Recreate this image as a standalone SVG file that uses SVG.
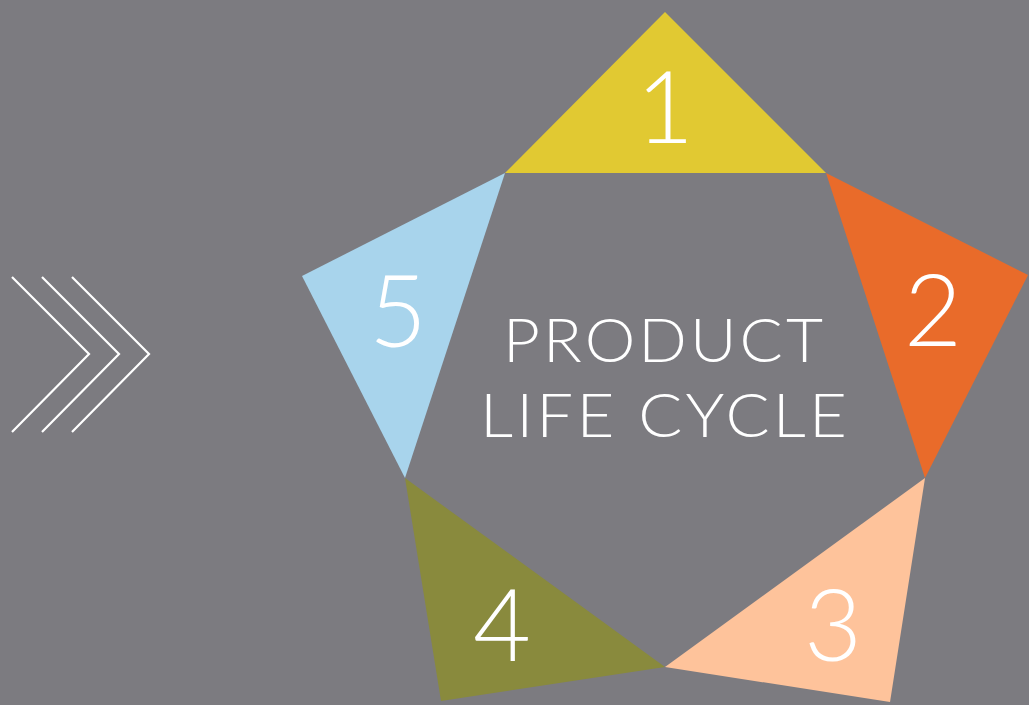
<svg xmlns="http://www.w3.org/2000/svg" width="1029" height="705" viewBox="0 0 1029 705">
<style>
.t{font-family:Lato,"Open Sans","Liberation Sans",sans-serif;font-weight:300;fill:#ffffff}
.n{font-size:100px;text-anchor:middle}
.c{fill:none;stroke:#ffffff;stroke-width:2.2}
</style>
<rect width="1029" height="705" fill="#7c7b80"/>
<g id="chevrons">
<polyline class="c" points="12,277 89,354 12,432"/>
<polyline class="c" points="42,277 119,354 42,432"/>
<polyline class="c" points="72,277 149,354 72,432"/>
</g>
<g id="node1"><polygon points="665,12 826,173 505,173" fill="#e1c932"/><text class="t n" x="665" y="143">1</text></g>
<g id="node2"><polygon points="826,173 1028,275 925,478" fill="#e96b2a"/><text class="t n" x="933" y="346">2</text></g>
<g id="node3"><polygon points="925,478 890,702 665,667" fill="#fec39b"/><text class="t n" x="833" y="661">3</text></g>
<g id="node4"><polygon points="665,667 441,701 405,478" fill="#898a3d"/><text class="t n" x="502" y="661">4</text></g>
<g id="node5"><polygon points="405,478 302,276 505,173" fill="#a8d4ec"/><text class="t n" x="398" y="347">5</text></g>
<g id="title">
<text class="t" x="503" y="362" font-size="62" letter-spacing="3" textLength="323" lengthAdjust="spacingAndGlyphs">PRODUCT</text>
<text class="t" x="480" y="437" font-size="62" letter-spacing="3" textLength="370" lengthAdjust="spacingAndGlyphs">LIFE CYCLE</text>
</g>
<g id="connectors"></g>
</svg>
